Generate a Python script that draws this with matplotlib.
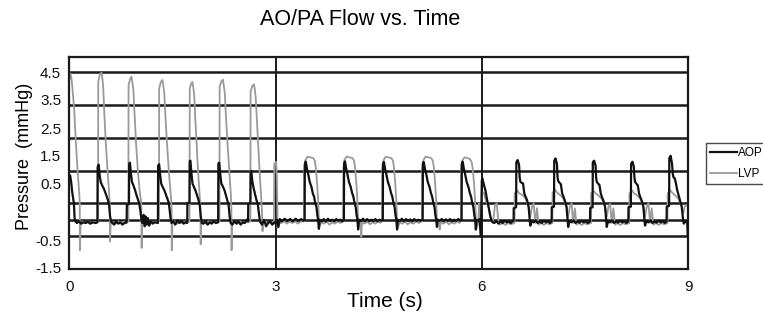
import matplotlib
matplotlib.use('Agg')
import matplotlib.pyplot as plt

plt.rcParams['font.family'] = ['Liberation Sans', 'DejaVu Sans']

# ---- data (time in s, pressure in mmHg) ----
aop_s1 = [
    (0.000, 1.30), (0.010, 1.35), (0.025, 1.15), (0.040, 0.85), (0.055, 0.65), (0.065, 0.50), (0.075, 0.05), (0.085, -0.05),
    (0.110, -0.10), (0.140, -0.05), (0.170, -0.12), (0.200, -0.08), (0.240, -0.10), (0.270, -0.06), (0.300, -0.12), (0.340, -0.08), (0.380, -0.10), (0.407, -0.08),
    (0.410, 1.60), (0.425, 1.68), (0.440, 1.35), (0.455, 1.15), (0.475, 1.05), (0.500, 0.95), (0.520, 0.84), (0.540, 0.72), (0.560, 0.60), (0.578, 0.43), (0.590, 0.12), (0.605, -0.05), (0.625, -0.10),
    (0.650, -0.15), (0.680, -0.05), (0.710, -0.12), (0.740, -0.08), (0.770, -0.15), (0.800, -0.10), (0.832, -0.08),
    (0.835, 0.45), (0.866, 0.48), (0.869, 1.70), (0.880, 1.74), (0.895, 1.40), (0.910, 1.15), (0.930, 1.05), (0.955, 0.90), (0.975, 0.75), (0.995, 0.62), (1.015, 0.50), (1.030, 0.30), (1.045, 0.05), (1.060, -0.10),
    (1.080, 0.15), (1.095, -0.20), (1.110, 0.10), (1.125, -0.15), (1.140, 0.05), (1.160, -0.18), (1.180, -0.05), (1.210, -0.12), (1.240, -0.08), (1.287, -0.10),
    (1.290, 1.65), (1.305, 1.69), (1.320, 1.35), (1.335, 1.10), (1.355, 1.00), (1.380, 0.90), (1.400, 0.78), (1.420, 0.65), (1.440, 0.55), (1.455, 0.35), (1.470, 0.05), (1.485, -0.10),
    (1.510, -0.05), (1.540, -0.15), (1.570, -0.02), (1.600, -0.10), (1.630, -0.05), (1.660, -0.12), (1.690, -0.08), (1.713, -0.10),
    (1.716, 0.50), (1.746, 0.52), (1.749, 1.78), (1.760, 1.80), (1.775, 1.40), (1.790, 1.10), (1.810, 1.00), (1.835, 0.88), (1.855, 0.75), (1.875, 0.62), (1.895, 0.45), (1.910, 0.10), (1.925, -0.10),
    (1.950, -0.12), (1.980, -0.05), (2.010, -0.15), (2.040, -0.08), (2.070, -0.12), (2.100, -0.05), (2.130, -0.10), (2.163, -0.08),
    (2.166, 1.70), (2.178, 1.74), (2.193, 1.40), (2.210, 1.10), (2.230, 1.02), (2.255, 0.90), (2.275, 0.75), (2.295, 0.60), (2.315, 0.45), (2.330, 0.10), (2.345, -0.10),
    (2.370, -0.15), (2.400, -0.05), (2.430, -0.12), (2.460, -0.05), (2.490, -0.15), (2.520, -0.08), (2.550, -0.10), (2.580, 0.00), (2.598, -0.05),
    (2.601, 0.48), (2.632, 0.50), (2.635, 1.45), (2.645, 1.49), (2.660, 1.17), (2.680, 0.95), (2.700, 0.78), (2.720, 0.60), (2.740, 0.47), (2.755, 0.20), (2.770, -0.05),
    (2.800, -0.15), (2.830, 0.00), (2.860, -0.20), (2.890, -0.10), (2.920, -0.05), (2.950, -0.15), (2.980, -0.08), (3.000, -0.12),
]
aop_s2 = [
    (3.020, 0.00), (3.040, -0.22), (3.060, 0.02), (3.090, -0.05), (3.130, 0.03), (3.170, -0.04), (3.210, 0.02), (3.250, -0.05), (3.290, 0.03), (3.330, -0.04), (3.370, 0.02), (3.400, -0.03), (3.421, 0.00),
    (3.424, 1.70), (3.438, 1.77), (3.455, 1.55), (3.471, 1.41), (3.495, 1.15), (3.520, 1.00), (3.540, 0.80), (3.559, 0.70), (3.575, 0.50), (3.593, 0.39), (3.605, 0.15), (3.617, -0.01), (3.628, -0.28), (3.640, 0.00),
    (3.670, -0.05), (3.700, 0.02), (3.730, -0.06), (3.760, 0.03), (3.790, -0.04), (3.820, 0.00), (3.850, -0.05), (3.880, 0.02), (3.910, -0.03), (3.940, 0.00), (3.970, -0.05), (3.992, 0.00),
    (3.995, 1.72), (4.008, 1.78), (4.025, 1.55), (4.042, 1.40), (4.066, 1.15), (4.091, 1.00), (4.111, 0.82), (4.130, 0.70), (4.146, 0.52), (4.164, 0.38), (4.176, 0.15), (4.188, 0.00), (4.199, -0.30), (4.212, 0.00),
    (4.240, -0.04), (4.270, 0.03), (4.300, -0.05), (4.330, 0.02), (4.360, -0.05), (4.390, 0.00), (4.420, -0.04), (4.450, 0.02), (4.480, -0.05), (4.510, 0.00), (4.540, -0.03), (4.558, 0.00),
    (4.561, 1.70), (4.574, 1.76), (4.591, 1.55), (4.608, 1.40), (4.632, 1.15), (4.657, 1.00), (4.677, 0.82), (4.696, 0.70), (4.712, 0.52), (4.730, 0.38), (4.742, 0.15), (4.754, 0.00), (4.765, -0.30), (4.778, 0.00),
    (4.805, -0.04), (4.835, 0.03), (4.865, -0.05), (4.895, 0.02), (4.925, -0.04), (4.955, 0.01), (4.985, -0.05), (5.015, 0.02), (5.045, -0.04), (5.075, 0.00), (5.105, -0.03), (5.138, 0.00),
    (5.141, 1.72), (5.154, 1.76), (5.171, 1.55), (5.188, 1.40), (5.212, 1.15), (5.237, 1.00), (5.257, 0.82), (5.276, 0.70), (5.292, 0.52), (5.310, 0.38), (5.322, 0.15), (5.334, 0.00), (5.345, -0.22), (5.358, 0.00),
    (5.385, -0.03), (5.415, 0.02), (5.445, -0.05), (5.475, 0.01), (5.505, -0.04), (5.535, 0.02), (5.565, -0.05), (5.595, 0.00), (5.625, -0.04), (5.655, 0.02), (5.685, -0.03), (5.704, 0.00),
    (5.707, 1.70), (5.720, 1.77), (5.737, 1.55), (5.754, 1.40), (5.778, 1.15), (5.803, 1.00), (5.823, 0.82), (5.842, 0.70), (5.858, 0.52), (5.876, 0.38), (5.888, 0.15), (5.900, 0.00), (5.911, -0.30), (5.924, 0.00),
    (5.945, -0.04), (5.965, 0.02), (5.985, -0.52), (5.998, 1.20), (6.005, 1.26),
]
aop_s3 = [
    (6.030, 1.05), (6.050, 0.90), (6.075, 0.60), (6.100, 0.35), (6.123, 0.09), (6.147, -0.06),
    (6.180, -0.10), (6.210, -0.04), (6.240, -0.12), (6.270, -0.05), (6.300, -0.10), (6.330, -0.03), (6.360, -0.08), (6.390, -0.05), (6.420, -0.10), (6.445, -0.05), (6.460, -0.03),
    (6.462, 0.35), (6.497, 0.38), (6.500, 1.75), (6.519, 1.82), (6.540, 1.67), (6.548, 1.30), (6.558, 1.16), (6.580, 1.12), (6.597, 1.11), (6.616, 0.80), (6.635, 0.70), (6.655, 0.60), (6.679, 0.39), (6.694, 0.00), (6.703, -0.18), (6.720, -0.05),
    (6.750, -0.08), (6.780, -0.02), (6.810, -0.10), (6.840, -0.05), (6.870, -0.10), (6.900, -0.03), (6.930, -0.08), (6.960, -0.04), (6.990, -0.10), (7.013, -0.05),
    (7.015, 0.38), (7.048, 0.40), (7.051, 1.80), (7.070, 1.87), (7.091, 1.70), (7.099, 1.30), (7.109, 1.18), (7.130, 1.12), (7.148, 1.08), (7.167, 0.80), (7.186, 0.70), (7.206, 0.58), (7.230, 0.39), (7.245, 0.00), (7.254, -0.22), (7.271, -0.05),
    (7.300, -0.08), (7.330, -0.02), (7.360, -0.10), (7.390, -0.05), (7.420, -0.09), (7.450, -0.03), (7.480, -0.08), (7.510, -0.04), (7.540, -0.10), (7.572, -0.05),
    (7.574, 0.36), (7.609, 0.38), (7.612, 1.75), (7.631, 1.80), (7.652, 1.65), (7.660, 1.30), (7.670, 1.15), (7.690, 1.10), (7.709, 1.06), (7.728, 0.80), (7.747, 0.68), (7.767, 0.58), (7.791, 0.39), (7.806, 0.00), (7.815, -0.22), (7.832, -0.05),
    (7.860, -0.08), (7.890, -0.02), (7.920, -0.10), (7.950, -0.05), (7.980, -0.09), (8.010, -0.03), (8.040, -0.08), (8.070, -0.04), (8.100, -0.10), (8.129, -0.05),
    (8.131, 0.38), (8.166, 0.40), (8.169, 1.70), (8.188, 1.77), (8.209, 1.62), (8.217, 1.30), (8.227, 1.15), (8.247, 1.10), (8.266, 1.05), (8.285, 0.80), (8.304, 0.68), (8.324, 0.58), (8.348, 0.39), (8.363, 0.00), (8.372, -0.18), (8.389, -0.05),
    (8.420, -0.08), (8.450, -0.02), (8.480, -0.10), (8.510, -0.05), (8.540, -0.09), (8.570, -0.03), (8.600, -0.08), (8.630, -0.04), (8.660, -0.10), (8.685, -0.05),
    (8.687, 0.40), (8.722, 0.42), (8.725, 1.88), (8.744, 1.95), (8.765, 1.70), (8.775, 1.40), (8.785, 1.30), (8.805, 1.25), (8.822, 1.10), (8.840, 0.90), (8.860, 0.75), (8.880, 0.60), (8.905, 0.40), (8.925, 0.00), (8.935, -0.12), (8.960, -0.05), (8.985, -0.08), (8.993, -0.48), (9.000, -0.50),
]

lvp_s1 = [
    (0.000, 4.30), (0.015, 4.46), (0.030, 4.30), (0.046, 3.95), (0.070, 3.34), (0.094, 2.33), (0.118, 1.51), (0.140, 0.90), (0.150, 0.50), (0.153, -0.93), (0.163, -0.10),
    (0.190, -0.05), (0.230, -0.10), (0.270, -0.05), (0.310, -0.12), (0.350, -0.06), (0.390, -0.08), (0.416, -0.05),
    (0.419, 4.20), (0.445, 4.45), (0.467, 4.48), (0.480, 4.30), (0.491, 4.05), (0.505, 3.34), (0.529, 2.33), (0.554, 1.51), (0.578, 0.80), (0.588, 0.40), (0.590, -0.66), (0.600, -0.10),
    (0.630, -0.08), (0.670, -0.12), (0.710, -0.05), (0.750, -0.10), (0.790, -0.06), (0.830, -0.10), (0.857, -0.05),
    (0.860, 4.10), (0.885, 4.30), (0.902, 4.36), (0.915, 4.20), (0.930, 3.95), (0.945, 3.30), (0.970, 2.30), (0.995, 1.50), (1.020, 0.90), (1.045, 0.50), (1.050, -0.86), (1.060, -0.10),
    (1.090, -0.08), (1.130, -0.12), (1.170, -0.05), (1.210, -0.10), (1.250, -0.06), (1.302, -0.05),
    (1.305, 4.00), (1.330, 4.20), (1.352, 4.26), (1.365, 4.10), (1.380, 3.85), (1.395, 3.20), (1.420, 2.30), (1.445, 1.50), (1.470, 0.85), (1.485, 0.45), (1.488, -0.93), (1.498, -0.10),
    (1.530, -0.05), (1.570, -0.12), (1.610, -0.06), (1.650, -0.10), (1.690, -0.05), (1.747, -0.06),
    (1.750, 4.00), (1.770, 4.15), (1.788, 4.20), (1.800, 4.05), (1.815, 3.80), (1.830, 3.10), (1.850, 2.30), (1.870, 1.50), (1.890, 0.85), (1.905, 0.40), (1.909, -0.75), (1.919, -0.10),
    (1.950, -0.08), (1.990, -0.12), (2.030, -0.05), (2.070, -0.10), (2.110, -0.06), (2.150, -0.08), (2.182, -0.05),
    (2.185, 4.05), (2.210, 4.22), (2.233, 4.27), (2.245, 4.10), (2.260, 3.85), (2.275, 3.20), (2.300, 2.30), (2.325, 1.50), (2.345, 0.85), (2.355, 0.40), (2.358, -0.93), (2.368, -0.10),
    (2.400, -0.06), (2.440, -0.12), (2.480, -0.05), (2.520, -0.10), (2.560, -0.06), (2.600, -0.08), (2.632, -0.05),
    (2.635, 3.90), (2.660, 4.08), (2.683, 4.13), (2.695, 4.00), (2.710, 3.70), (2.725, 3.10), (2.745, 2.30), (2.765, 1.50), (2.785, 0.80), (2.800, 0.30), (2.808, -0.35), (2.818, -0.10),
    (2.850, -0.05), (2.890, -0.12), (2.930, -0.06), (2.975, -0.08),
    (2.980, 1.70), (3.005, 1.77), (3.018, 1.30), (3.028, -0.25), (3.045, -0.08),
]
lvp_s2 = [
    (3.080, -0.10), (3.120, -0.05), (3.160, -0.12), (3.200, -0.06), (3.240, -0.10), (3.280, -0.05), (3.320, -0.12), (3.360, -0.06), (3.411, -0.05),
    (3.413, 1.50), (3.428, 1.80), (3.463, 1.92), (3.503, 1.90), (3.544, 1.88), (3.568, 1.80), (3.583, 1.60), (3.602, 1.11), (3.617, 0.60), (3.628, 0.00), (3.641, -0.20), (3.663, -0.08),
    (3.700, -0.12), (3.740, -0.05), (3.780, -0.15), (3.820, -0.08), (3.860, -0.12), (3.900, -0.05), (3.940, -0.10), (3.982, -0.05),
    (3.984, 1.55), (3.999, 1.82), (4.034, 1.93), (4.074, 1.90), (4.115, 1.88), (4.139, 1.80), (4.154, 1.60), (4.173, 1.11), (4.188, 0.60), (4.199, 0.00), (4.212, -0.20), (4.234, -0.08), (4.245, -0.52), (4.255, -0.08),
    (4.290, -0.12), (4.330, -0.06), (4.370, -0.14), (4.410, -0.08), (4.450, -0.12), (4.490, -0.05), (4.520, -0.10), (4.548, -0.05),
    (4.550, 1.55), (4.565, 1.80), (4.600, 1.92), (4.640, 1.90), (4.681, 1.88), (4.705, 1.80), (4.720, 1.60), (4.739, 1.11), (4.754, 0.60), (4.765, 0.00), (4.778, -0.25), (4.800, -0.08),
    (4.840, -0.12), (4.880, -0.06), (4.920, -0.14), (4.960, -0.08), (5.000, -0.12), (5.040, -0.05), (5.080, -0.10), (5.128, -0.05),
    (5.130, 1.55), (5.145, 1.80), (5.180, 1.92), (5.220, 1.90), (5.261, 1.88), (5.285, 1.80), (5.300, 1.60), (5.319, 1.11), (5.334, 0.60), (5.345, 0.00), (5.358, -0.20), (5.375, -0.05), (5.385, -0.30), (5.400, -0.08),
    (5.440, -0.12), (5.480, -0.06), (5.520, -0.14), (5.560, -0.08), (5.600, -0.12), (5.640, -0.05), (5.670, -0.10), (5.694, -0.05),
    (5.696, 1.55), (5.711, 1.80), (5.746, 1.90), (5.786, 1.88), (5.827, 1.85), (5.851, 1.75), (5.866, 1.55), (5.885, 1.10), (5.900, 0.60), (5.911, 0.00), (5.924, -0.25), (5.945, -0.10),
    (5.960, 0.50), (5.975, -0.30), (5.990, 0.30),
]
lvp_s3 = [
    (6.005, 0.85), (6.030, 0.80), (6.060, 0.55), (6.090, 0.45), (6.120, 0.10), (6.160, -0.10), (6.190, 0.45), (6.215, 0.50), (6.240, -0.10), (6.265, -0.15),
    (6.300, -0.10), (6.340, -0.16), (6.380, -0.10), (6.420, -0.14), (6.474, -0.10),
    (6.476, 0.80), (6.510, 0.90), (6.545, 0.80), (6.582, 0.76), (6.631, 0.66), (6.679, 0.39), (6.703, 0.09), (6.728, 0.40), (6.752, 0.50), (6.776, -0.10), (6.800, 0.35), (6.824, -0.15),
    (6.860, -0.10), (6.900, -0.16), (6.940, -0.10), (6.980, -0.14), (7.025, -0.10),
    (7.027, 0.82), (7.061, 0.92), (7.096, 0.82), (7.133, 0.76), (7.182, 0.66), (7.230, 0.39), (7.254, 0.09), (7.279, 0.40), (7.303, 0.50), (7.327, -0.10), (7.351, 0.35), (7.375, -0.15),
    (7.410, -0.10), (7.450, -0.16), (7.490, -0.10), (7.530, -0.14), (7.586, -0.10),
    (7.588, 0.80), (7.622, 0.88), (7.657, 0.80), (7.694, 0.74), (7.743, 0.64), (7.791, 0.39), (7.815, 0.09), (7.840, 0.40), (7.864, 0.48), (7.888, -0.10), (7.912, 0.35), (7.936, -0.15),
    (7.970, -0.10), (8.010, -0.16), (8.050, -0.10), (8.090, -0.14), (8.143, -0.10),
    (8.145, 0.80), (8.179, 0.90), (8.214, 0.80), (8.251, 0.75), (8.300, 0.65), (8.348, 0.39), (8.372, 0.09), (8.397, 0.40), (8.421, 0.50), (8.445, -0.10), (8.469, 0.35), (8.493, -0.15),
    (8.530, -0.10), (8.570, -0.16), (8.610, -0.10), (8.650, -0.14), (8.699, -0.10),
    (8.701, 0.80), (8.735, 0.90), (8.770, 0.82), (8.805, 0.75), (8.855, 0.65), (8.900, 0.45), (8.930, 0.20), (8.950, 0.40), (8.975, 0.45), (9.000, 0.40),
]

x_ticks = [0, 3, 6, 9]
# labels sit where they sit in the source image (slightly off the grid)
y_tick_labels = ['4.5', '3.5', '2.5', '1.5', '0.5', '-0.5', '-1.5']
y_tick_pos = [4.5, 3.68, 2.79, 1.97, 1.09, -0.62, -1.47]
h_grid = [4.5, 3.5, 2.5, 1.5, 0.5, 0.0, -0.5]
v_grid = [3, 6]

aop_t, aop_v = zip(*(aop_s1 + aop_s2 + aop_s3))
lvp_t, lvp_v = zip(*(lvp_s1 + lvp_s2 + lvp_s3))

# %%
fig = plt.figure(figsize=(7.63, 3.24), dpi=100)
ax = fig.add_axes([0.091, 0.170, 0.811, 0.654])

for y in h_grid:
    ax.axhline(y, color='#1a1a1a', lw=1.8, zorder=1)
for x in v_grid:
    ax.axvline(x, color='#1a1a1a', lw=1.4, zorder=1)

ax.plot(aop_t, aop_v, color='#111111', lw=1.6, label='AOP', zorder=3)
ax.plot(lvp_t, lvp_v, color='#9a9a9a', lw=1.3, label='LVP', zorder=2)

ax.set_xlim(0, 9)
ax.set_ylim(-1.5, 4.96)
ax.set_xticks(x_ticks)
ax.set_yticks(y_tick_pos, y_tick_labels)
ax.tick_params(length=0, labelsize=11, colors='#111111')
ax.tick_params(axis='x', pad=8)
ax.tick_params(axis='y', pad=6)
for sp in ax.spines.values():
    sp.set_color('#1a1a1a')
    sp.set_linewidth(1.6)

ax.set_xlabel('Time (s)', fontsize=15, va='center')
ax.xaxis.set_label_coords(0.51, -0.155)
ax.set_ylabel('Pressure  (mmHg)', fontsize=13, va='center')
ax.yaxis.set_label_coords(-0.073, 0.53)
fig.text(0.472, 0.94, 'AO/PA Flow vs. Time', fontsize=15.5, ha='center', va='center')

leg = ax.legend(loc='upper left', bbox_to_anchor=(0.925, 0.559), bbox_transform=fig.transFigure,
                borderaxespad=0, fontsize=8.5, frameon=True, fancybox=False,
                handlelength=2.3, handletextpad=0.1, borderpad=0.35, labelspacing=0.75)
leg.get_frame().set_edgecolor('#1a1a1a')
leg.get_frame().set_linewidth(1.0)

fig.savefig('out.png', dpi=100)
